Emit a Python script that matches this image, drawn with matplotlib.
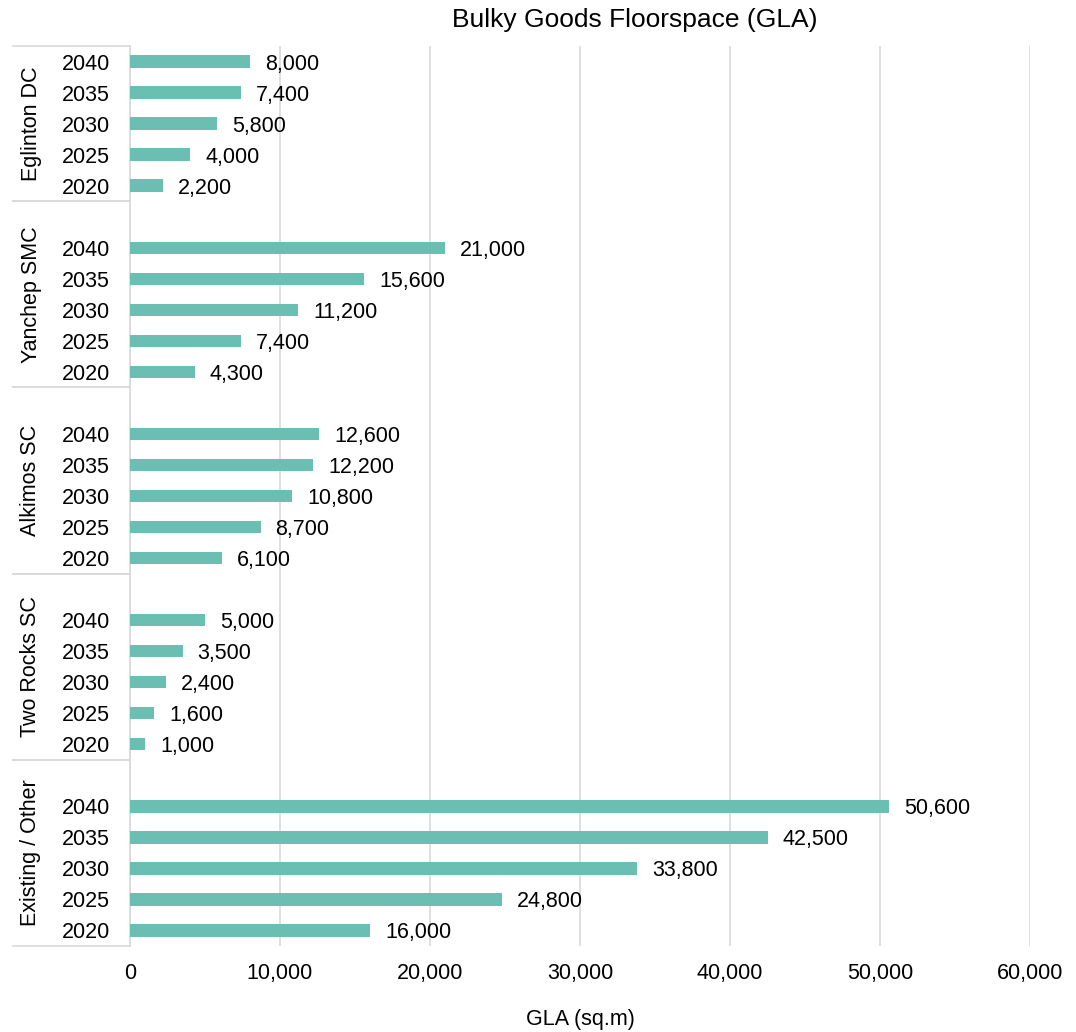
import matplotlib.pyplot as plt
import matplotlib.transforms as mtransforms
import numpy as np

plt.rcParams['font.family'] = ['Liberation Sans', 'DejaVu Sans']

# groups are listed bottom to top, years 2020..2040 within each group
groups = ['Existing / Other', 'Two Rocks SC', 'Alkimos SC', 'Yanchep SMC', 'Eglinton DC']
years = ['2020', '2025', '2030', '2035', '2040']
existing_other = [16000, 24800, 33800, 42500, 50600]
two_rocks = [1000, 1600, 2400, 3500, 5000]
alkimos = [6100, 8700, 10800, 12200, 12600]
yanchep = [4300, 7400, 11200, 15600, 21000]
eglinton = [2200, 4000, 5800, 7400, 8000]
series = [existing_other, two_rocks, alkimos, yanchep, eglinton]

bar_color = '#6ABFB2'
grid_color = '#D9D9D9'
fs = 15.5

fig = plt.figure(figsize=(10.76, 10.32), dpi=100)
ax = fig.add_axes([130 / 1076, 1 - 946 / 1032, 900 / 1076, 900 / 1032])

# each group takes 5 slots plus one empty slot above it (except the top one)
ypos, vals, ylabels = [], [], []
group_spans = []
slot = 0
for gi, (g, v) in enumerate(zip(groups, series)):
    start = slot
    for y, val in zip(years, v):
        ypos.append(slot)
        vals.append(val)
        ylabels.append(y)
        slot += 1
    if gi < len(groups) - 1:
        slot += 1
    group_spans.append((start - 0.5, slot - 0.5))

ax.barh(ypos, vals, height=0.4, color=bar_color, zorder=3)
for y, v in zip(ypos, vals):
    ax.text(v + 1000, y, f'{v:,}', va='center_baseline', ha='left', fontsize=fs, color='black')

ax.set_xlim(0, 60000)
ax.set_ylim(-0.5, slot - 0.5)
ax.set_xticks(np.arange(0, 60001, 10000))
ax.set_xticklabels([f'{int(t):,}' for t in ax.get_xticks()], fontsize=fs)
ax.set_yticks(ypos)
ax.set_yticklabels(ylabels, fontsize=fs)
ax.tick_params(axis='both', length=0, colors='black')
ax.tick_params(axis='y', pad=14.4)
ax.tick_params(axis='x', pad=12)
ax.xaxis.grid(True, color=grid_color, linewidth=1.2, zorder=0)

for s in ['top', 'right', 'bottom']:
    ax.spines[s].set_visible(False)
ax.spines['left'].set_color(grid_color)
ax.spines['left'].set_linewidth(1.2)

# category group labels and separators left of the axis
trans = mtransforms.blended_transform_factory(ax.transAxes, ax.transData)
for g, (lo, hi) in zip(groups, group_spans):
    ax.text(-99 / 900, (lo + hi) / 2, g, rotation=90, ha='center', va='center',
            fontsize=fs, transform=trans)
    for edge in (lo, hi):
        ax.plot([-117 / 900, 0], [edge, edge], color=grid_color, linewidth=1.2,
                transform=trans, clip_on=False)

fig.text(635 / 1076, 1 - 20 / 1032, 'Bulky Goods Floorspace (GLA)', fontsize=19,
         ha='center', va='center')
ax.set_xlabel('GLA (sq.m)', fontsize=fs, labelpad=18)

fig.savefig('out.png', dpi=100)
